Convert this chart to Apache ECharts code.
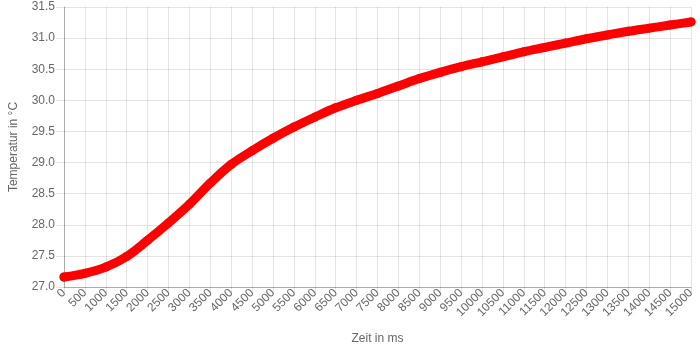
<!DOCTYPE html>
<html>
<head>
<meta charset="utf-8">
<script src="https://cdn.jsdelivr.net/npm/echarts@6/dist/echarts.min.js"></script>
<style>html,body{margin:0;padding:0;background:#fff}#c{width:700px;height:350px}</style>
</head>
<body>
<div id="c"></div>
<script>
const timeMs = [0,500,1000,1500,2000,2500,3000,3500,4000,4500,5000,5500,6000,6500,7000,7500,8000,8500,9000,9500,10000,10500,11000,11500,12000,12500,13000,13500,14000,14500,15000];
const tempC = [27.16,27.22,27.32,27.49,27.75,28.03,28.33,28.67,28.97,29.19,29.39,29.57,29.73,29.88,30.00,30.11,30.23,30.35,30.45,30.54,30.62,30.70,30.78,30.85,30.92,30.99,31.05,31.11,31.16,31.21,31.26];
const xAxisName = 'Zeit in ms';
const yAxisName = 'Temperatur in °C';

const data = timeMs.map((t, i) => [t, tempC[i]]);
const chart = echarts.init(document.getElementById('c'));
const gridColor = 'rgba(0,0,0,0.1)';
const font = 'Liberation Sans, Arial, sans-serif';
chart.setOption({
  animation: false,
  grid: {left: 61, right: 9, top: 7, bottom: 63},
  xAxis: {
    type: 'value', min: 0, max: 15000, interval: 500,
    name: xAxisName, nameLocation: 'middle', nameGap: 46,
    nameTextStyle: {color: '#666', fontSize: 12, fontFamily: font},
    axisLine: {show: true, lineStyle: {color: 'rgba(0,0,0,0.25)'}},
    axisTick: {show: true, length: 8, lineStyle: {color: gridColor}},
    splitLine: {show: true, lineStyle: {color: gridColor}},
    axisLabel: {rotate: 45, color: '#666', fontSize: 12, margin: 4, fontFamily: font, formatter: v => String(v)}
  },
  yAxis: {
    type: 'value', min: 27, max: 31.5, interval: 0.5,
    name: yAxisName, nameLocation: 'middle', nameGap: 44,
    nameTextStyle: {color: '#666', fontSize: 12, fontFamily: font},
    axisLine: {show: true, lineStyle: {color: 'rgba(0,0,0,0.25)'}},
    axisTick: {show: true, length: 8, lineStyle: {color: gridColor}},
    splitLine: {show: true, lineStyle: {color: gridColor}},
    axisLabel: {color: '#666', fontSize: 12, margin: 9, formatter: v => v.toFixed(1), fontFamily: font}
  },
  series: [{
    type: 'line', data: data, smooth: 0.35,
    symbol: 'circle', symbolSize: 9, showAllSymbol: true,
    lineStyle: {color: '#ff0000', width: 9, cap: 'round', join: 'round'},
    itemStyle: {color: '#ff0000', borderColor: '#ff0000', borderWidth: 0}
  }]
});
</script>
</body>
</html>
